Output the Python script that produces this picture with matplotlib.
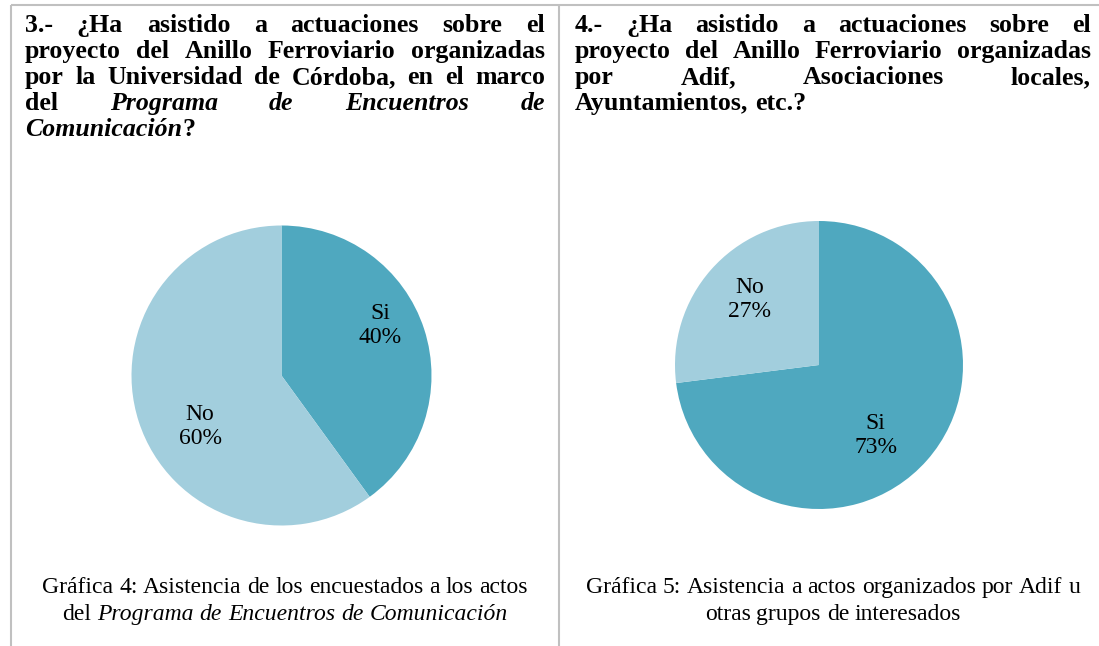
import numpy as np
import matplotlib
matplotlib.use('Agg')
import matplotlib.pyplot as plt

# Datos de las dos gráficas
cat_g4 = ['Si', 'No']
val_g4 = [40, 60]
cat_g5 = ['Si', 'No']
val_g5 = [73, 27]

# Textos (las palabras entre * van en cursiva)
titulo_g4 = ['3.- ¿Ha asistido a actuaciones sobre el',
             'proyecto del Anillo Ferroviario organizadas',
             'por la Universidad de Córdoba, en el marco',
             'del *Programa de Encuentros de*',
             '*Comunicación*?']
titulo_g5 = ['4.- ¿Ha asistido a actuaciones sobre el',
             'proyecto del Anillo Ferroviario organizadas',
             'por Adif, Asociaciones locales,',
             'Ayuntamientos, etc.?']
pie_g4 = ['Gráfica 4: Asistencia de los encuestados a los actos',
          'del *Programa de Encuentros de Comunicación*']
pie_g5 = ['Gráfica 5: Asistencia a actos organizados por Adif u',
          'otras grupos de interesados']

W, H = 1099, 646
FAM = 'Liberation Serif'
OSCURO = '#4FA8BF'
CLARO = '#A2CEDD'
BORDE = '#C0C0C0'

fig = plt.figure(figsize=(W / 100, H / 100), dpi=100)
bg = fig.add_axes([0, 0, 1, 1])
bg.set_xlim(0, W)
bg.set_ylim(H, 0)
bg.axis('off')
renderer = fig.canvas.get_renderer()

# bordes de la tabla
bg.plot([11, W], [5, 5], color=BORDE, lw=1.5, solid_capstyle='butt')
for xb in [11, 559]:
    bg.plot([xb, xb], [5, H], color=BORDE, lw=1.5, solid_capstyle='butt')


def medir(txt, size, weight, style):
    t = bg.text(0, 0, txt, fontsize=size, family=FAM, weight=weight, style=style)
    w = t.get_window_extent(renderer).width
    t.remove()
    return w


def partir(linea, cursiva):
    # devuelve lista de palabras, cada una lista de (texto, cursiva)
    palabras = []
    for pal in linea.split(' '):
        if pal == '':
            continue
        segs = []
        trozos = pal.split('*')
        for i, tr in enumerate(trozos):
            if i > 0:
                cursiva = not cursiva
            if tr:
                segs.append((tr, cursiva))
        palabras.append(segs)
    return palabras, cursiva


def escribir(lineas, x0, x1, y0, dy, size, weight, modo):
    cursiva = False
    esp = medir('a a', size, weight, 'normal') - medir('aa', size, weight, 'normal')
    for k, linea in enumerate(lineas):
        palabras, cursiva = partir(linea, cursiva)
        anchos = []
        for segs in palabras:
            anchos.append([medir(s, size, weight, 'italic' if c else 'normal') for s, c in segs])
        total = sum(sum(a) for a in anchos)
        n = len(palabras)
        if modo == 'justificado' and k < len(lineas) - 1 and n > 1:
            gap = (x1 - x0 - total) / (n - 1)
            x = x0
        elif modo == 'centrado':
            gap = esp
            x = (x0 + x1) / 2 - (total + esp * (n - 1)) / 2
        else:
            gap = esp
            x = x0
        y = y0 + k * dy
        for segs, a in zip(palabras, anchos):
            for (s, c), w in zip(segs, a):
                bg.text(x, y, s, fontsize=size, family=FAM, weight=weight,
                        style='italic' if c else 'normal', ha='left', va='baseline')
                x += w
            x += gap


escribir(titulo_g4, 25, 545, 32, 26, 18.6, 'bold', 'justificado')
escribir(titulo_g5, 575, 1091, 32, 26, 18.6, 'bold', 'justificado')
escribir(pie_g4, 25, 545, 593, 27, 17, 'normal', 'centrado')
escribir(pie_g5, 575, 1091, 593, 27, 17, 'normal', 'centrado')


def tarta(cx, cy, r, cats, vals, dist, giro):
    ax = fig.add_axes([(cx - r) / W, 1 - (cy + r) / H, 2 * r / W, 2 * r / H])
    wedges, _ = ax.pie(vals, colors=[OSCURO, CLARO], startangle=90, counterclock=False,
                       wedgeprops=dict(linewidth=0))
    ax.set_xlim(-1, 1)
    ax.set_ylim(-1, 1)
    for wdg, c, v, d, g in zip(wedges, cats, vals, dist, giro):
        ang = np.deg2rad((wdg.theta1 + wdg.theta2) / 2 + g)
        ax.text(d * np.cos(ang), d * np.sin(ang), f'{c}\n{v}%', ha='center', va='center',
                fontsize=17, family=FAM, linespacing=1.2)
    return ax


tarta(281.5, 375.5, 150, cat_g4, val_g4, [0.74, 0.64], [9, 14])
tarta(819, 365, 144, cat_g5, val_g5, [0.63, 0.66], [-10, -2])

fig.savefig('out.png', dpi=100)
